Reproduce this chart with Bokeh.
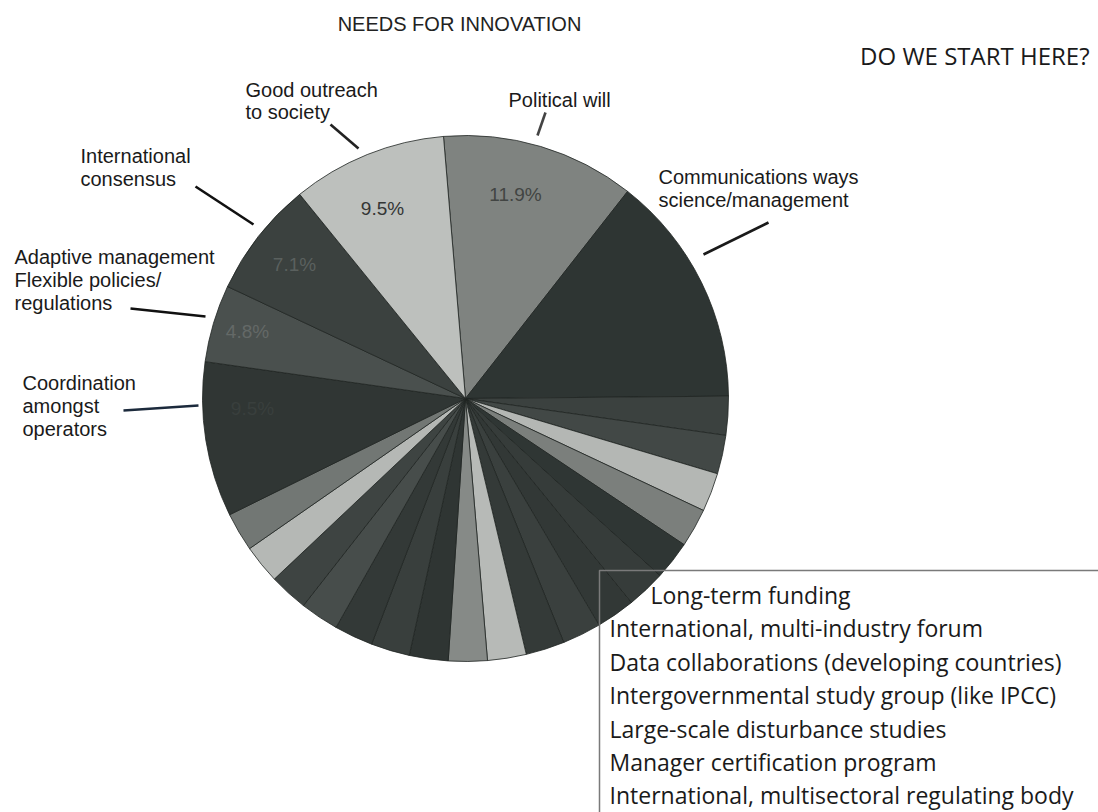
import numpy as np
from bokeh.plotting import figure
from bokeh.models import Range1d, ColumnDataSource
from bokeh.core.properties import value
from bokeh.embed import file_html
from bokeh.resources import INLINE

# ---------------- data ----------------
categories = [
    "Political will",
    "Communications ways science/management",
    "Other 1", "Other 2", "Other 3", "Other 4",
    "Other 5", "Other 6", "Other 7", "Other 8", "Other 9",
    "Other 10", "Other 11",
    "Other 12", "Other 13", "Other 14", "Other 15", "Other 16",
    "Other 17", "Other 18",
    "Coordination amongst operators",
    "Adaptive management Flexible policies/regulations",
    "International consensus",
    "Good outreach to society",
]
counts = [5, 6,
          1, 1, 1, 1,
          1, 1, 1, 1, 1,
          1, 1,
          1, 1, 1, 1, 1,
          1, 1,
          4, 2, 3, 4]

title = "NEEDS FOR INNOVATION"
side_title = "DO WE START HERE?"
box_lines = [
    "Long-term funding",
    "International, multi-industry forum",
    "Data collaborations (developing countries)",
    "Intergovernmental study group (like IPCC)",
    "Large-scale disturbance studies",
    "Manager certification program",
    "International, multisectoral regulating body",
]

# ---------------- style ----------------
slice_colors = [
    "#7f8380", "#2e3533",
    "#3b413f", "#424846", "#b4b7b4", "#7b7f7c",
    "#2f3634", "#363c3a", "#323836", "#3a403e", "#343a38",
    "#b7bab7", "#868a87",
    "#2f3533", "#393f3d", "#333937", "#474d4b", "#3e4442",
    "#b5b8b5", "#727774",
    "#303634", "#4a504e", "#3b413f", "#bdc0bd",
]

W, H = 1098, 812
CX, CY, R = 465, H - 398, 263
START = -4.8  # degrees clockwise from 12 o'clock

counts_arr = np.array(counts, dtype=float)
total = counts_arr.sum()
theta_end = START + np.cumsum(counts_arr) / total * 360.0
theta_start = theta_end - counts_arr / total * 360.0

src = ColumnDataSource(dict(
    cat=categories,
    start=np.radians(90.0 - theta_end),
    end=np.radians(90.0 - theta_start),
    color=slice_colors,
))

p = figure(width=W, height=H, x_range=Range1d(0, W), y_range=Range1d(0, H),
           output_backend="svg", toolbar_location=None,
           x_axis_type=None, y_axis_type=None, min_border=0)
p.grid.visible = False
p.outline_line_color = None
p.background_fill_color = "white"
p.border_fill_color = "white"

p.wedge(x=CX, y=CY, radius=R, start_angle="start", end_angle="end",
        direction="anticlock", fill_color="color", line_color="#1f2422",
        line_width=0.8, source=src)

# percentage labels inside slices
pct = {c: "%.1f%%" % (n / total * 100) for c, n in zip(categories, counts)}
inner = [
    ("Political will", 515, 194, "#424543"),
    ("Good outreach to society", 382, 208, "#343635"),
    ("International consensus", 294, 264, "#5a605e"),
    ("Adaptive management Flexible policies/regulations", 247, 331, "#646967"),
    ("Coordination amongst operators", 252, 408, "#393f3d"),
]
p.text(x=[a[1] for a in inner], y=[H - a[2] for a in inner],
       text=[pct[a[0]] for a in inner], text_color=[a[3] for a in inner],
       text_font=value("Liberation Sans"), text_font_size=value("19px"),
       text_align="center", text_baseline="middle")

# outside labels
lab_font = value("Liberation Sans")
labels = [
    (245, 89, "Good outreach"), (245, 111, "to society"),
    (508, 99, "Political will"),
    (658, 176, "Communications ways"), (658, 199, "science/management"),
    (80, 155, "International"), (80, 178, "consensus"),
    (14, 256, "Adaptive management"), (14, 279, "Flexible policies/"), (14, 302, "regulations"),
    (22, 382, "Coordination"), (22, 405, "amongst"), (22, 428, "operators"),
]
p.text(x=[l[0] for l in labels], y=[H - l[1] for l in labels], text=[l[2] for l in labels],
       text_font=lab_font, text_font_size=value("20px"), text_color="#1a1a1a",
       text_align="left", text_baseline="middle")

# leader lines
leaders = [
    (330, 124, 358, 148, "#222222"),
    (545, 112, 537, 135, "#444444"),
    (768, 222, 703, 254, "#1a1a1a"),
    (195, 186, 253, 224, "#111111"),
    (130, 308, 205, 316, "#111111"),
    (123, 410, 198, 405, "#1c2a3c"),
]
p.segment(x0=[l[0] for l in leaders], y0=[H - l[1] for l in leaders],
          x1=[l[2] for l in leaders], y1=[H - l[3] for l in leaders],
          line_color=[l[4] for l in leaders], line_width=2.6)

# titles
p.text(x=[459], y=[H - 23], text=[title], text_font=lab_font,
       text_font_size=value("20px"), text_color="#222222",
       text_align="center", text_baseline="middle")
p.text(x=[1089], y=[H - 55], text=[side_title], text_font=value("Open Sans"),
       text_font_size=value("24px"), text_color="#1a1a1a",
       text_align="right", text_baseline="middle")

# text box
p.quad(left=[599], right=[1120], top=[H - 570], bottom=[-20],
       fill_color=None, line_color="#7a7a7a", line_width=1.5)
box_x = [650] + [609] * (len(box_lines) - 1)
box_y = [594, 627.5, 661, 694.5, 728, 761.5, 794]
p.text(x=box_x, y=[H - y for y in box_y], text=box_lines,
       text_font=value("Open Sans"), text_font_size=value("23px"), text_color="#1a1a1a",
       text_align="left", text_baseline="middle")

open("out.html", "w").write(file_html(p, INLINE))
